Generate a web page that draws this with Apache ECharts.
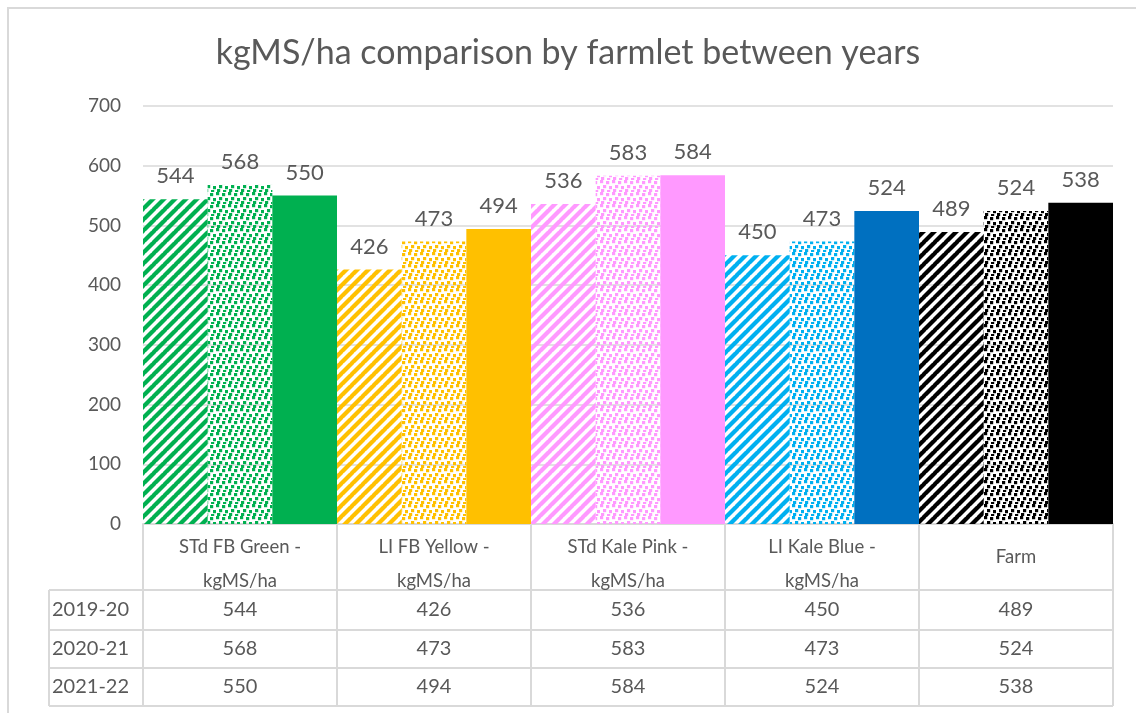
<!DOCTYPE html>
<html>
<head>
<meta charset="utf-8">
<script src="https://cdn.jsdelivr.net/npm/echarts@6/dist/echarts.min.js"></script>
<style>
  html, body { margin: 0; padding: 0; background: #fff; }
  #chart { width: 1136px; height: 713px; }
</style>
</head>
<body>
<div id="chart"></div>
<script>
// data
const categories = ['STd FB Green -\nkgMS/ha', 'LI FB Yellow -\nkgMS/ha', 'STd Kale Pink -\nkgMS/ha', 'LI Kale Blue -\nkgMS/ha', 'Farm']
const years = ['2019-20', '2020-21', '2021-22']
const values2019 = [544, 426, 536, 450, 489]
const values2020 = [568, 473, 583, 473, 524]
const values2021 = [550, 494, 584, 524, 538]
const yMax = 700
const yStep = 100

// styles
const patternColors = ['#00B050', '#FFC000', '#FF99FF', '#00B0F0', '#000000']
const solidColors = ['#00B050', '#FFC000', '#FF99FF', '#0070C0', '#000000']
const FONT = 'Lato'
const TEXT = '#595959'
const LINE = '#d9d9d9'

const GRID = { left: 143, right: 23, top: 106, bottom: 189 }
const W = 1136
const H = 713
const axisY = H - GRID.bottom
const headerBottom = 590
const rowLines = [590, 630, 668, 706]
const tableLeft = 49

// tile patterns
const makeStripes = (color) => {
  const s = 11
  const c = document.createElement('canvas')
  c.width = s
  c.height = s
  const ctx = c.getContext('2d')
  ctx.strokeStyle = color
  ctx.lineWidth = 4.2
  for (let k = -1; k <= 1; k++) {
    ctx.beginPath()
    ctx.moveTo(k * s - 1, s + 1)
    ctx.lineTo(k * s + s + 1, -1)
    ctx.stroke()
  }
  return c
}
const dotSpots = [[0, 0], [6, 1], [3, 5], [9, 6], [1, 9], [7, 10]]
const makeDots = (color) => {
  const s = 12
  const c = document.createElement('canvas')
  c.width = s
  c.height = s
  const ctx = c.getContext('2d')
  ctx.fillStyle = color
  dotSpots.forEach(([x, y]) => ctx.fillRect(x, y, 3.2, 3.2))
  return c
}

const buildData = (values, fillFn) => values.map((v, i) => ({
  value: v,
  itemStyle: { color: fillFn(i) },
}))

const seriesDefs = [
  { name: years[0], data: buildData(values2019, i => ({ image: makeStripes(patternColors[i]), repeat: 'repeat' })) },
  { name: years[1], data: buildData(values2020, i => ({ image: makeDots(patternColors[i]), repeat: 'repeat' })) },
  { name: years[2], data: buildData(values2021, i => solidColors[i]) },
]

const rowValues = [values2019, values2020, values2021]
const rowCenters = rowLines.slice(0, 3).map((y, i) => (y + rowLines[i + 1]) / 2)

const chart = echarts.init(document.getElementById('chart'))

const tableGraphics = []
rowLines.forEach((y) => {
  tableGraphics.push({
    type: 'line',
    shape: { x1: tableLeft, y1: y, x2: W - GRID.right, y2: y },
    style: { stroke: LINE, lineWidth: 2 },
  })
})
tableGraphics.push({
  type: 'line',
  shape: { x1: tableLeft, y1: headerBottom, x2: tableLeft, y2: rowLines[3] },
  style: { stroke: LINE, lineWidth: 2 },
})
const colW = (W - GRID.left - GRID.right) / categories.length
for (let i = 0; i <= categories.length; i++) {
  const x = GRID.left + i * colW
  tableGraphics.push({
    type: 'line',
    shape: { x1: x, y1: axisY, x2: x, y2: rowLines[3] },
    style: { stroke: LINE, lineWidth: 2 },
  })
}
years.forEach((name, i) => {
  tableGraphics.push({
    type: 'text',
    x: 52,
    y: rowCenters[i],
    style: { text: name, font: `20px ${FONT}`, fill: TEXT, verticalAlign: 'middle', align: 'left' },
  })
})
tableGraphics.push({
  type: 'rect',
  shape: { x: 8, y: 8, width: 1200, height: 800 },
  style: { fill: 'none', stroke: LINE, lineWidth: 2 },
  silent: true,
})

const rowAxes = rowValues.map((vals, i) => ({
  type: 'category',
  data: vals.map(String),
  position: 'bottom',
  offset: rowCenters[i] - axisY - 11,
  axisLine: { show: false },
  axisTick: { show: false },
  axisLabel: { margin: 0, lineHeight: 22, color: TEXT, fontSize: 20, fontFamily: FONT },
}))

chart.setOption({
  animation: false,
  title: {
    text: 'kgMS/ha comparison by farmlet between years',
    left: 'center',
    top: 31,
    textStyle: { fontFamily: FONT, fontSize: 34, fontWeight: 'normal', color: TEXT },
  },
  grid: GRID,
  xAxis: [{
    type: 'category',
    data: categories,
    position: 'bottom',
    axisLine: { lineStyle: { color: LINE, width: 2 } },
    axisTick: { show: false },
    axisLabel: {
      margin: 6,
      lineHeight: 34,
      color: TEXT,
      fontSize: 18.5,
      fontFamily: FONT,
      formatter: v => (v.indexOf('\n') >= 0 ? v : `{one|${v}}`),
      rich: { one: { lineHeight: 54, fontSize: 18.5, fontFamily: FONT, color: TEXT } },
    },
  }, ...rowAxes],
  yAxis: {
    type: 'value',
    min: 0,
    max: yMax,
    interval: yStep,
    axisLine: { show: false },
    axisTick: { show: false },
    axisLabel: { margin: 22, color: TEXT, fontSize: 19, fontFamily: FONT },
    splitLine: { lineStyle: { color: LINE, width: 1.5 } },
  },
  series: seriesDefs.map(s => ({
    name: s.name,
    type: 'bar',
    xAxisIndex: 0,
    data: s.data,
    barGap: '0%',
    barCategoryGap: '0%',
    label: {
      show: true,
      position: 'top',
      distance: 12,
      color: TEXT,
      fontSize: 22,
      fontFamily: FONT,
    },
  })),
  graphic: tableGraphics,
})
</script>
</body>
</html>
